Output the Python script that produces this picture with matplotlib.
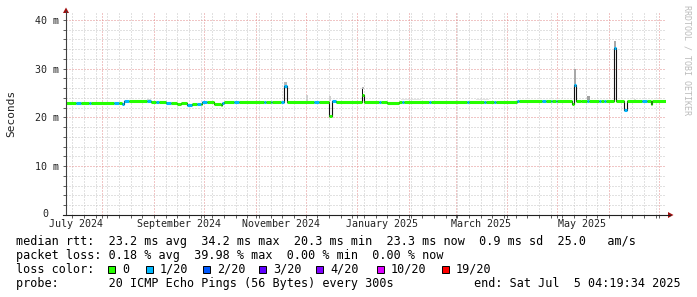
import matplotlib
matplotlib.use("Agg")
import matplotlib.pyplot as plt
import matplotlib.dates as mdates
from matplotlib.patches import Rectangle, Polygon
from matplotlib.lines import Line2D
from matplotlib.ticker import MultipleLocator, NullFormatter
import pandas as pd

W, H = 697, 297
MONO = "DejaVu Sans Mono"

# ---------------------------------------------------------------------------
# data
# ---------------------------------------------------------------------------
t_start = "2024-07-10 04:19:34"
t_end = "2025-07-05 04:19:34"

# median rtt (ms) as steps; loss = index into loss_labels
seg_start = [
    "2024-07-10 04:19", "2024-07-16", "2024-07-19", "2024-07-24", "2024-07-25",
    "2024-08-08", "2024-08-11", "2024-08-13", "2024-08-14", "2024-08-17",
    "2024-08-28", "2024-08-30", "2024-09-02", "2024-09-04", "2024-09-08",
    "2024-09-11", "2024-09-15", "2024-09-17", "2024-09-21", "2024-09-24",
    "2024-09-27", "2024-09-29", "2024-09-30", "2024-10-03", "2024-10-07",
    "2024-10-11", "2024-10-12", "2024-10-13", "2024-10-19", "2024-10-22",
    "2024-11-06", "2024-11-07", "2024-11-10", "2024-11-11", "2024-11-16",
    "2024-11-18", "2024-11-20", "2024-12-06", "2024-12-09", "2024-12-15",
    "2024-12-17", "2024-12-19", "2025-01-04", "2025-01-05", "2025-01-14",
    "2025-01-15", "2025-01-19", "2025-01-26", "2025-01-28", "2025-01-29",
    "2025-02-13", "2025-02-14", "2025-03-08", "2025-03-09", "2025-03-18",
    "2025-03-19", "2025-03-24", "2025-03-25", "2025-04-07", "2025-04-08",
    "2025-04-22", "2025-04-24", "2025-04-27", "2025-04-28", "2025-04-30",
    "2025-05-01", "2025-05-10", "2025-05-11", "2025-05-12", "2025-05-15",
    "2025-05-19", "2025-05-20", "2025-05-26", "2025-05-27", "2025-05-29",
    "2025-05-30", "2025-06-04", "2025-06-05", "2025-06-10", "2025-06-12",
    "2025-06-21", "2025-06-24", "2025-06-26", "2025-06-27",
]
seg_median = [
    23.0, 23.0, 23.0, 23.0, 23.0,
    23.0, 23.0, 22.8, 23.3, 23.3,
    23.3, 23.1, 23.1, 23.1, 23.0,
    23.0, 22.7, 23.0, 22.6, 22.7,
    22.7, 22.8, 23.2, 23.2, 22.7,
    22.5, 23.0, 23.2, 23.2, 23.2,
    23.2, 23.2, 23.2, 23.2, 23.2,
    26.5, 23.2, 23.2, 23.2, 20.3,
    23.3, 23.2, 24.6, 23.2, 23.2,
    23.2, 23.0, 23.2, 23.2, 23.2,
    23.2, 23.2, 23.2, 23.2, 23.2,
    23.2, 23.2, 23.2, 23.3, 23.3,
    23.3, 23.3, 23.3, 23.3, 23.3,
    23.3, 22.7, 26.7, 23.4, 23.3,
    23.3, 23.3, 23.3, 23.3, 23.3,
    23.3, 34.2, 23.3, 21.5, 23.3,
    23.3, 23.3, 22.7, 23.3,
]
seg_loss = [
    0, 1, 0, 1, 0,
    1, 0, 1, 1, 0,
    1, 0, 1, 0, 1,
    0, 0, 0, 1, 0,
    1, 0, 1, 0, 0,
    0, 1, 0, 1, 0,
    1, 0, 1, 0, 1,
    1, 0, 1, 0, 0,
    1, 0, 0, 0, 1,
    0, 0, 0, 1, 0,
    1, 0, 1, 0, 1,
    0, 1, 0, 1, 0,
    1, 0, 1, 0, 1,
    0, 0, 1, 0, 0,
    1, 0, 1, 0, 1,
    0, 1, 0, 1, 0,
    1, 0, 0, 0,
]

# light smoke (spread of the pings)
smoke_dates = ["2024-08-28", "2024-11-18", "2024-12-01", "2024-12-15", "2025-01-04",
               "2025-01-27", "2025-03-13", "2025-05-11", "2025-05-19", "2025-06-04",
               "2025-06-16"]
smoke_days = [2.0, 2.0, 1.5, 1.0, 1.0, 12.0, 8.0, 1.2, 1.5, 1.0, 1.0]
smoke_lo = [23.5, 26.5, 23.4, 23.4, 25.8, 23.5, 23.5, 26.7, 23.5, 34.2, 23.5]
smoke_hi = [23.8, 27.3, 24.5, 24.4, 26.3, 23.8, 23.8, 30.0, 24.4, 35.6, 23.8]
smoke_shade = ["#d8d8d8", "#b8b8b8", "#cfcfcf", "#cfcfcf", "#b8b8b8",
               "#e4e4e4", "#e4e4e4", "#a8a8a8", "#a0a0a0", "#a8a8a8", "#dddddd"]

# dense smoke
dark_dates = ["2025-01-04"]
dark_lo = [24.6]
dark_hi = [25.8]

loss_labels = ["0", "1/20", "2/20", "3/20", "4/20", "10/20", "19/20"]
loss_colors = ["#26ff00", "#00b8ff", "#0059ff", "#5e00ff", "#7e00ff", "#dd00ff", "#ff0000"]

month_labels = ["July 2024", "September 2024", "November 2024",
                "January 2025", "March 2025", "May 2025"]
month_label_dates = ["2024-07-16", "2024-09-16", "2024-11-16",
                     "2025-01-16", "2025-03-16", "2025-05-16"]

y_ticks = [0, 10, 20, 30, 40]
y_ticklabels = ["0", "10 m", "20 m", "30 m", "40 m"]

line_rtt = "median rtt:  23.2 ms avg  34.2 ms max  20.3 ms min  23.3 ms now  0.9 ms sd  25.0   am/s"
line_loss = "packet loss: 0.18 % avg  39.98 % max  0.00 % min  0.00 % now"
line_probe = "probe:       20 ICMP Echo Pings (56 Bytes) every 300s"
line_end = "end: Sat Jul  5 04:19:34 2025"


def fx(x):
    return x / W


def fy(y):
    return 1 - y / H


# ---------------------------------------------------------------------------
# figure
# ---------------------------------------------------------------------------
fig = plt.figure(figsize=(W / 100, H / 100), dpi=100, facecolor="white")
ax = fig.add_axes([fx(66), fy(215), fx(666) - fx(66), fy(13) - fy(215)])
ax.set_facecolor("white")

x0 = mdates.date2num(pd.Timestamp(t_start))
x1 = mdates.date2num(pd.Timestamp(t_end))
starts = [mdates.date2num(pd.Timestamp(d)) for d in seg_start]
ends = starts[1:] + [x1]

# black edges of the steps (visible where the median jumps)
ax.plot(starts + [x1], seg_median + [seg_median[-1]], drawstyle="steps-post",
        color="#111111", lw=0.8, zorder=3)

# smoke
ax.bar([mdates.date2num(pd.Timestamp(d)) for d in smoke_dates],
       [h - l for l, h in zip(smoke_lo, smoke_hi)], bottom=smoke_lo,
       width=smoke_days, align="edge", color=smoke_shade, lw=0, zorder=2)
ax.bar([mdates.date2num(pd.Timestamp(d)) for d in dark_dates],
       [h - l for l, h in zip(dark_lo, dark_hi)], bottom=dark_lo,
       width=0.6, align="edge", color="#111111", lw=0, zorder=3)

# median coloured by loss
ax.hlines(seg_median, starts, ends, colors=[loss_colors[i] for i in seg_loss],
          lw=2.2, capstyle="butt", zorder=4)

ax.set_xlim(x0, x1)
ax.set_ylim(0, 41.4)

# grid
ax.xaxis.set_major_locator(mdates.MonthLocator())
ax.xaxis.set_minor_locator(mdates.WeekdayLocator(byweekday=mdates.SU))
ax.xaxis.set_major_formatter(NullFormatter())
# the "0" label is drawn by hand so it sits like the "0" of "10 m"
ax.set_yticks(y_ticks, [""] + y_ticklabels[1:])
ax.yaxis.set_minor_locator(MultipleLocator(2))
ax.grid(which="minor", color="#c4c4c4", ls=(0, (1, 2)), lw=0.72, zorder=0)
ax.grid(which="major", color="#e38c8c", ls=(0, (1, 2)), lw=0.72, zorder=1)
ax.set_axisbelow(True)

for s in ax.spines.values():
    s.set_visible(False)
ax.tick_params(which="both", length=2, width=0.6, color="#404040", direction="out")
ax.tick_params(axis="y", pad=3, labelsize=7.2, labelcolor="#222222")
for lab in ax.get_yticklabels():
    lab.set_fontfamily(MONO)
fig.text(fx(48.5), fy(214), y_ticklabels[0], ha="right", va="center",
         fontsize=7.2, family=MONO, color="#222222")

for d, txt in zip(month_label_dates, month_labels):
    ax.text(mdates.date2num(pd.Timestamp(d)), -0.02, txt, transform=ax.get_xaxis_transform(),
            ha="center", va="top", fontsize=7.2, family=MONO, color="#222222")

# axis lines + arrows
fig.add_artist(Line2D([fx(66), fx(66)], [fy(215), fy(11)], color="#404040", lw=0.8))
fig.add_artist(Line2D([fx(63), fx(670)], [fy(215), fy(215)], color="#202020", lw=0.8))
fig.add_artist(Polygon([(fx(63), fy(13)), (fx(69), fy(13)), (fx(66), fy(7.5))],
                       closed=True, color="#a01010", lw=0))
fig.add_artist(Polygon([(fx(668), fy(212)), (fx(668), fy(218)), (fx(673.5), fy(215))],
                       closed=True, color="#a01010", lw=0))

fig.text(fx(11), fy(113), "Seconds", rotation=90, ha="center", va="center",
         fontsize=8, family=MONO, color="#222222")
fig.text(fx(687), fy(60), "RRDTOOL / TOBI OETIKER", rotation=270, ha="center",
         va="center", fontsize=6, family=MONO, color="#bbbbbb")

# legend
fig.text(fx(16.5), fy(245), line_rtt, fontsize=8.5, family=MONO, va="baseline")
fig.text(fx(16.5), fy(259), line_loss, fontsize=8.5, family=MONO, va="baseline")
fig.text(fx(16.5), fy(273), "loss color:", fontsize=8.5, family=MONO, va="baseline")
box_x = [108, 146, 203, 259, 316, 377, 442]
for bx, lab, col in zip(box_x, loss_labels, loss_colors):
    fig.add_artist(Rectangle((fx(bx), fy(273)), 7 / W, 7 / H, facecolor=col,
                             edgecolor="black", lw=0.7))
    fig.text(fx(bx + 14), fy(273), lab, fontsize=8.5, family=MONO, va="baseline")
fig.text(fx(16.5), fy(287), line_probe, fontsize=8.5, family=MONO, va="baseline")
fig.text(fx(681), fy(287), line_end, fontsize=8.5, family=MONO, va="baseline", ha="right")

fig.savefig("out.png", dpi=100, facecolor="white")
